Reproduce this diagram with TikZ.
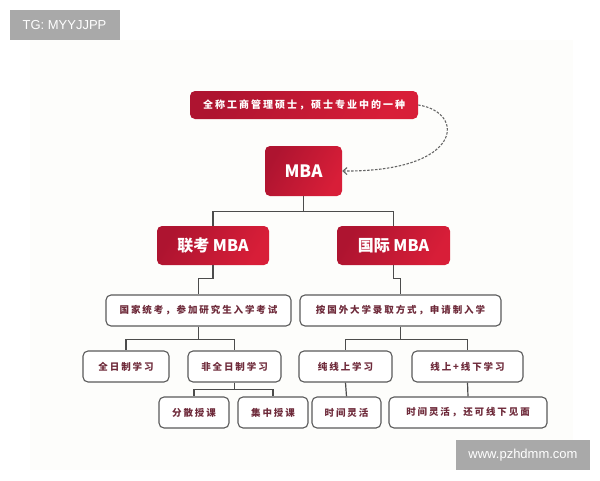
\documentclass[tikz,border=0pt]{standalone}
\usepackage{fontspec}
\usetikzlibrary{arrows.meta,shadings}
\newfontfamily\cjk{Noto Sans CJK SC}
\newfontfamily\cjksp[LetterSpace=20]{Noto Sans CJK SC}
\newfontfamily\wmfont{Liberation Sans}
\definecolor{redA}{HTML}{AE1430}
\definecolor{redB}{HTML}{D81E38}
\definecolor{boxline}{HTML}{5A5A5A}
\definecolor{boxtext}{HTML}{6E2A3A}
\definecolor{wmgray}{HTML}{A9A9A9}
\definecolor{panel}{HTML}{FDFDFB}
\tikzset{
  redbox/.style={rounded corners=5pt, left color=redA, right color=redB, shading angle=60,
    text=white, inner sep=0pt, align=center},
  whitebox/.style={draw=boxline, line width=1.1pt, rounded corners=5pt, fill=white,
    text=boxtext, inner sep=0pt, minimum height=31pt, font=\cjksp\fontsize{9.5}{11}\selectfont\bfseries},
  conn/.style={draw=boxline!85!black, line width=1.2pt},
  wm/.style={fill=wmgray, text=white, inner sep=0pt, font=\wmfont\fontsize{13}{15}\selectfont}
}
\begin{document}
\begin{tikzpicture}[x=1pt,y=-1pt]
\useasboundingbox (0,0) rectangle (600,480);
\fill[white] (0,0) rectangle (600,480);
\fill[panel] (30,40) rectangle (573,470);
% red nodes
\node[redbox, minimum width=228pt, minimum height=28pt,
  font=\cjksp\fontsize{10}{12}\selectfont\bfseries] (top) at (304,105) {全称工商管理硕士，硕士专业中的一种};
\node[redbox, minimum width=77pt, minimum height=50pt, font=\cjk\fontsize{17}{20}\selectfont\bfseries] (mba) at (303.5,171) {MBA};
\node[redbox, minimum width=112pt, minimum height=39pt, font=\cjk\fontsize{16}{19}\selectfont\bfseries] (lk) at (213,245.5) {联考 MBA};
\node[redbox, minimum width=113pt, minimum height=39pt, font=\cjk\fontsize{16}{19}\selectfont\bfseries] (gj) at (393.5,245.5) {国际 MBA};
% white nodes
\node[whitebox, minimum width=185pt] (tk) at (198.5,310.5) {国家统考，参加研究生入学考试};
\node[whitebox, minimum width=201pt] (sq) at (400.5,310.5) {按国外大学录取方式，申请制入学};
\node[whitebox, minimum width=86pt] (qr) at (126,366.5) {全日制学习};
\node[whitebox, minimum width=93pt] (fq) at (234.5,366.5) {非全日制学习};
\node[whitebox, minimum width=93pt] (cx) at (345.5,366.5) {纯线上学习};
\node[whitebox, minimum width=111pt] (xx) at (467.5,366.5) {线上+线下学习};
\node[whitebox, minimum width=70pt] (fs) at (194,412.5) {分散授课};
\node[whitebox, minimum width=70pt] (jz) at (273,412.5) {集中授课};
\node[whitebox, minimum width=69pt] (sj1) at (346.5,412.5) {时间灵活};
\node[whitebox, minimum width=158pt] (sj2) at (468,412.5) {时间灵活，还可线下见面};
% connectors
\draw[conn] (mba.south) -- ++(0,15) -| (lk.north);
\draw[conn] (mba.south) -- ++(0,15) -| (gj.north);
\draw[conn] (lk.south) -- ++(0,13) -| (tk.north);
\draw[conn] (gj.south) -- ++(0,13) -| (sq.north);
\draw[conn] (tk.south) -- ++(0,13) -| (qr.north);
\draw[conn] (tk.south) -- ++(0,13) -| (fq.north);
\draw[conn] (fq.south) -- ++(0,7) -| (fs.north);
\draw[conn] (fq.south) -- ++(0,7) -| (jz.north);
\draw[conn] (sq.south) -- ++(0,13) -| (cx.north);
\draw[conn] (sq.south) -- ++(0,13) -| (xx.north);
\draw[conn] (cx.south) -- (sj1.north);
\draw[conn] (xx.south) -- (sj2.north);
% dashed arrow
\draw[draw=black!60, line width=1.1pt, dash pattern=on 2.5pt off 1.5pt,
  -{Straight Barb[length=4pt,width=7pt]}]
  (top.east) .. controls (466,112) and (464,172) .. (mba.east);
% watermarks
\node[wm, minimum width=110pt, minimum height=30pt] (wm1) at (64.5,25) {TG: MYYJJPP};
\node[wm, minimum width=134pt, minimum height=30pt] (wm2) at (523,455) {www.pzhdmm.com};
\end{tikzpicture}
\end{document}
